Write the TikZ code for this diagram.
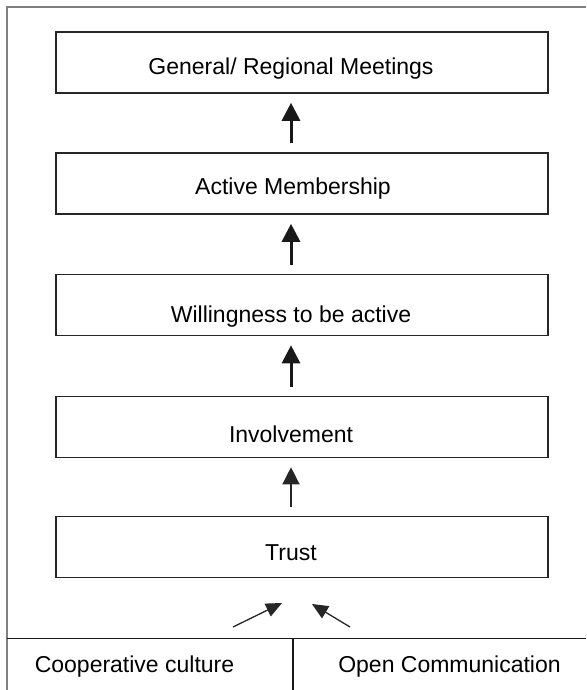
\documentclass[tikz,border=0pt]{standalone}
\usepackage{fontspec}
\setmainfont{Liberation Sans}
\usetikzlibrary{arrows.meta}

\begin{document}
\begin{tikzpicture}[x=1pt,y=-1pt]
  \tikzstyle{stage}=[draw=black!85, line width=1.6pt, minimum width=492pt, minimum height=61pt]
  \tikzstyle{caption}=[anchor=base, inner sep=0pt, font=\fontsize{23}{27}\selectfont]
  \tikzstyle{up}=[-{Triangle[length=18pt,width=18pt]}, line width=3pt, black!90, shorten <=9pt, shorten >=9pt]
  \tikzstyle{upthin}=[-{Triangle[length=17pt,width=17pt]}, line width=1.3pt, black!85, shorten <=9pt, shorten >=9pt]
  \tikzstyle{feed}=[-{Triangle[length=16pt,width=14pt]}, line width=1.3pt, black!85]
  \useasboundingbox (0,0) rectangle (586,690);

  % outer frame
  \draw[black!50, line width=1.2pt] (7,690) -- (7,7) -- (586,7);
  \draw[black!90, line width=1.5pt] (7,638.5) -- (586,638.5);
  \draw[black!90, line width=1.2pt] (293,638.5) -- (293,690);

  \node[stage] (meet)  at (302,62.5)  {};
  \node[stage] (memb)  at (302,183.5) {};
  \node[stage] (will)  at (302,305)   {};
  \node[stage] (invol) at (302,427)   {};
  \node[stage] (trust) at (302,547)   {};

  \node[caption] (meet_t)  at (291,75)  {General/ Regional Meetings};
  \node[caption] (memb_t)  at (293,194) {Active Membership};
  \node[caption] (will_t)  at (291,322) {Willingness to be active};
  \node[caption] (invol_t) at (291,442) {Involvement};
  \node[caption] (trust_t) at (291,560) {Trust};

  \node[caption] (coop_t) at (134.5,672) {Cooperative culture};
  \node[caption] (open_t) at (449.5,672) {Open Communication};

  \draw[up] ([xshift=-11pt]memb.north) -- ([xshift=-11pt]meet.south);
  \draw[up] ([xshift=-11pt]will.north) -- ([xshift=-11pt]memb.south);
  \draw[up] ([xshift=-11pt]invol.north) -- ([xshift=-11pt]will.south);
  \draw[upthin] ([xshift=-11pt]trust.north) -- ([xshift=-11pt]invol.south);

  \coordinate (coop_a) at (233,627);
  \coordinate (coop_b) at (282,603);
  \coordinate (open_a) at (350,627);
  \coordinate (open_b) at (312,604);
  \draw[feed] (coop_a) -- (coop_b);
  \draw[feed] (open_a) -- (open_b);
\end{tikzpicture}
\end{document}
